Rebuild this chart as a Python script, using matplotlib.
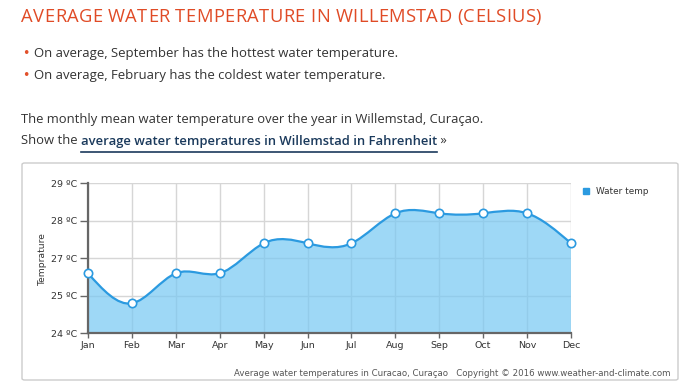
import matplotlib
matplotlib.use('Agg')
import matplotlib.pyplot as plt
import numpy as np
from matplotlib.path import Path
from matplotlib.patches import PathPatch, FancyBboxPatch
from matplotlib.lines import Line2D
from matplotlib import font_manager
from matplotlib.textpath import text_to_path

# data (in axis units; the source chart labels its 26 gridline as "27 ºC")
months = ['Jan', 'Feb', 'Mar', 'Apr', 'May', 'Jun',
          'Jul', 'Aug', 'Sep', 'Oct', 'Nov', 'Dec']
water_temp = [25.6, 24.8, 25.6, 25.6, 26.4, 26.4,
              26.4, 27.2, 27.2, 27.2, 27.2, 26.4]
y_ticks = [24, 25, 26, 27, 28]
y_tick_labels = ['24 ºC', '25 ºC', '27 ºC', '28 ºC', '29 ºC']

title = 'AVERAGE WATER TEMPERATURE IN WILLEMSTAD (CELSIUS)'
bullets = ['On average, September has the hottest water temperature.',
           'On average, February has the coldest water temperature.']
intro = 'The monthly mean water temperature over the year in Willemstad, Curaçao.'
link = 'average water temperatures in Willemstad in Fahrenheit'
footer = 'Average water temperatures in Curacao, Curaçao   Copyright © 2016 www.weather-and-climate.com'


def spline_path(xs, ys):
    # natural cubic spline through the points, as bezier segments (unit spacing)
    y = np.asarray(ys, float)
    n = len(y)
    A = np.zeros((n, n))
    b = np.zeros(n)
    A[0, 0] = A[-1, -1] = 1
    for i in range(1, n - 1):
        A[i, i - 1], A[i, i], A[i, i + 1] = 1, 4, 1
        b[i] = 6 * (y[i + 1] - 2 * y[i] + y[i - 1])
    M = np.linalg.solve(A, b)
    d = np.zeros(n)
    for i in range(n - 1):
        d[i] = (y[i + 1] - y[i]) - (2 * M[i] + M[i + 1]) / 6
    d[-1] = (y[-1] - y[-2]) + (M[-2] + 2 * M[-1]) / 6
    verts = [(xs[0], y[0])]
    codes = [Path.MOVETO]
    for i in range(n - 1):
        verts += [(xs[i] + 1 / 3, y[i] + d[i] / 3),
                  (xs[i + 1] - 1 / 3, y[i + 1] - d[i + 1] / 3),
                  (xs[i + 1], y[i + 1])]
        codes += [Path.CURVE4] * 3
    return verts, codes


fig = plt.figure(figsize=(6.83, 3.85), dpi=100)
W, H = 683, 385


def fx(px):
    return px / W


def fy(py):
    return 1 - py / H


def spaced_text(x0, x1, y, s, size, family, color):
    # letter-spaced text stretched between x0 and x1 (pixels)
    prop = font_manager.FontProperties(family=family, size=size)
    font = text_to_path._get_font(prop)
    info = text_to_path.get_glyphs_with_font(font, s + 'H')[0]
    pos = [g[1] * size / 72 for g in info]
    natural = pos[-1]
    gap = max((x1 - x0 - natural) / (len(s) - 1), 0)
    for i, c in enumerate(s):
        fig.text(fx(x0 + pos[i] + i * gap), fy(y), c, family=family,
                 fontsize=size, color=color, va='center', ha='left')


# page text
spaced_text(21, 541, 17, title, 13.2, 'Open Sans', '#e04b26')
for i, b in enumerate(bullets):
    y = [53, 75][i]
    fig.text(fx(22), fy(y), '•', family='DejaVu Sans', fontsize=9,
             color='#e2502a', va='center', ha='left')
    fig.text(fx(34), fy(y), b, family='Open Sans', fontsize=9.45,
             color='#333333', va='center', ha='left')
fig.text(fx(21), fy(120), intro, family='Open Sans', fontsize=9.4,
         color='#333333', va='center', ha='left')
t_show = fig.text(fx(21), fy(141), 'Show the ', family='Open Sans', fontsize=9.4,
                  color='#333333', va='center', ha='left')

# chart frame
frame = FancyBboxPatch((fx(22), fy(380)), fx(678 - 22), (380 - 163) / H,
                       boxstyle='round,pad=0,rounding_size=0.004',
                       transform=fig.transFigure, facecolor='white',
                       edgecolor='#cccccc', linewidth=1, zorder=-5)
fig.patches.append(frame)

ax = fig.add_axes([fx(88), fy(333.3), fx(571 - 88), (333.3 - 183.3) / H])
ax.set_zorder(2)
ax.patch.set_alpha(0)
x = np.arange(len(months))
verts, codes = spline_path(list(x), water_temp)
fill_verts = verts + [(x[-1], 24), (x[0], 24), (x[0], water_temp[0])]
fill_codes = codes + [Path.LINETO, Path.LINETO, Path.CLOSEPOLY]
ax.add_patch(PathPatch(Path(fill_verts, fill_codes), facecolor='#79c9f3',
                       edgecolor='none', alpha=0.72, zorder=2))
ax.add_patch(PathPatch(Path(verts, codes), facecolor='none',
                       edgecolor='#2b9ae0', linewidth=1.6, zorder=3))
ax.plot(x, water_temp, 'o', markersize=6, markerfacecolor='white',
        markeredgecolor='#2b9ae0', markeredgewidth=1.2, zorder=4, clip_on=False)

ax.set_xlim(0, 11)
ax.set_ylim(24, 28)
ax.set_xticks(x)
ax.set_xticklabels(months)
ax.set_yticks(y_ticks)
ax.set_yticklabels(y_tick_labels)
ax.grid(True, color='#d6d6d6', linewidth=1)
ax.set_axisbelow(True)
for s in ['top', 'right']:
    ax.spines[s].set_visible(False)
ax.spines['left'].set_color('#666666')
ax.spines['left'].set_linewidth(1.6)
ax.spines['bottom'].set_color('#666666')
ax.spines['bottom'].set_linewidth(1.6)
ax.tick_params(axis='both', colors='#666666', labelcolor='#333333',
               labelsize=6.8, width=1, pad=2)
ax.tick_params(axis='y', length=5.5)
ax.tick_params(axis='x', length=3.8)
for lab in ax.get_xticklabels() + ax.get_yticklabels():
    lab.set_family('DejaVu Sans')
ax.set_ylabel('Temprature', fontsize=6.6, color='#333333', labelpad=3)

# legend
fig.add_artist(Line2D([fx(586)], [fy(191)], marker='s', markersize=4,
                      color='#2b9ae0', linestyle='none', transform=fig.transFigure))
fig.text(fx(596), fy(191), 'Water temp', fontsize=6.4, color='#333333',
         va='center', ha='left')
fig.text(fx(670), fy(373), footer, fontsize=6.25, color='#555555',
         va='center', ha='right')

# link with underline
fig.canvas.draw()
r = fig.canvas.get_renderer()
bb = t_show.get_window_extent(r)
t_link = fig.text(bb.x1 / W, fy(141), link, family='Open Sans', fontsize=9.4,
                  weight='semibold', color='#1b3a5c', va='center', ha='left')
bb2 = t_link.get_window_extent(r)
fig.text(bb2.x1 / W, fy(141), ' »', family='Open Sans', fontsize=9.4,
         color='#333333', va='center', ha='left')
fig.add_artist(Line2D([bb2.x0 / W, bb2.x1 / W], [fy(151.5), fy(151.5)],
                      color='#1b3a5c', linewidth=1.2, transform=fig.transFigure))

fig.savefig('out.png', dpi=100)
